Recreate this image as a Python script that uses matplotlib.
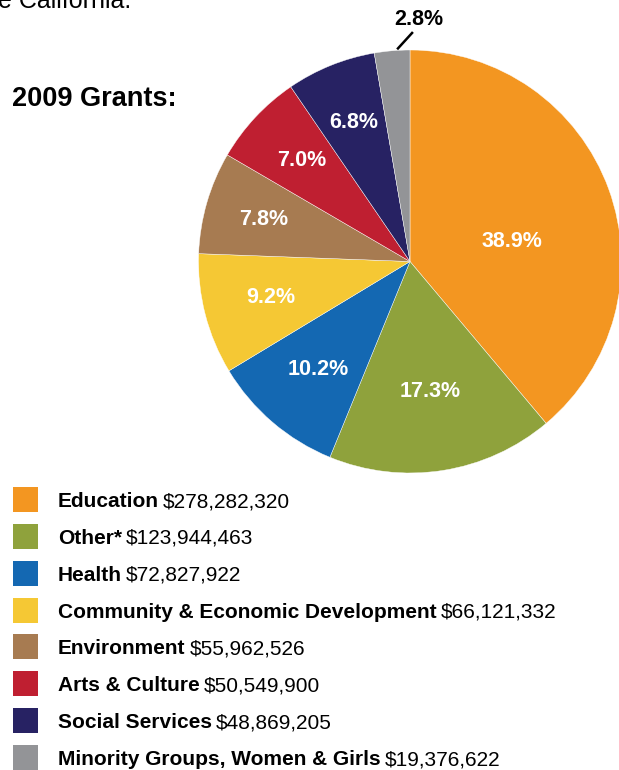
import numpy as np
import matplotlib
matplotlib.use("Agg")
import matplotlib.pyplot as plt

plt.rcParams["font.family"] = ["Liberation Sans", "DejaVu Sans"]

# data
categories = ["Education", "Other*", "Health", "Community & Economic Development",
              "Environment", "Arts & Culture", "Social Services",
              "Minority Groups, Women & Girls"]
amounts = [278282320, 123944463, 72827922, 66121332,
           55962526, 50549900, 48869205, 19376622]
pct_labels = ["38.9%", "17.3%", "10.2%", "9.2%", "7.8%", "7.0%", "6.8%", "2.8%"]
colors = ["#F39621", "#8FA23C", "#1468B2", "#F5C834",
          "#A77B51", "#BF1F31", "#272263", "#939497"]

# label placement (radius fraction, angle nudge in deg)
lab_r = [0.49, 0.62, 0.67, 0.68, 0.72, 0.70, 0.71, 1.145]
lab_da = [-9, 0, 0, 0, 0, 0, 0, -7]

W, H = 619, 770
fig = plt.figure(figsize=(W / 100, H / 100), dpi=100)
ax = fig.add_axes([0, 0, 1, 1])

cx, cy, R = 410, H - 261.5, 211.5
wedges, _ = ax.pie(amounts, colors=colors, startangle=90, counterclock=False,
                   center=(cx, cy), radius=R,
                   wedgeprops=dict(edgecolor="white", linewidth=0.3))
ax.set_xlim(0, W)
ax.set_ylim(0, H)
ax.set_aspect("equal")
ax.axis("off")

for i, w in enumerate(wedges):
    mid_deg = (w.theta1 + w.theta2) / 2
    mid = np.deg2rad(mid_deg + lab_da[i])
    x = cx + lab_r[i] * R * np.cos(mid)
    y = cy + lab_r[i] * R * np.sin(mid)
    if lab_r[i] < 1:
        ax.text(x, y, pct_labels[i], color="white", fontsize=15.5, fontweight="bold",
                ha="center", va="center")
    else:
        # small leader line from the wedge rim up to the label
        a0, a1 = np.deg2rad(mid_deg - 1.4), np.deg2rad(mid_deg - 5.6)
        ax.plot([cx + 1.005 * R * np.cos(a0), cx + 1.085 * R * np.cos(a1)],
                [cy + 1.005 * R * np.sin(a0), cy + 1.085 * R * np.sin(a1)],
                color="black", lw=1.8, solid_capstyle="butt")
        ax.text(x, y, pct_labels[i], color="black", fontsize=15.5, fontweight="bold",
                ha="center", va="center")

# header texts
ax.text(-2, H - 7.5, "e California.", fontsize=18, ha="left", va="baseline")
ax.text(12, H - 106, "2009 Grants:", fontsize=19.5, fontweight="bold",
        ha="left", va="baseline")

# legend
row0, step = H - 499.5, 36.86
for i, (name, amt, c) in enumerate(zip(categories, amounts, colors)):
    yc = row0 - i * step
    ax.add_patch(plt.Rectangle((13, yc - 12.5), 25, 25, color=c, lw=0))
    t = ax.text(58, yc, name, fontsize=15, fontweight="bold", ha="left",
                va="center_baseline")
    ax.annotate(f"${amt:,}", xy=(1, 0), xycoords=t, xytext=(3, 0),
                textcoords="offset points", fontsize=15, ha="left", va="bottom")

fig.savefig("out.png", dpi=100)
